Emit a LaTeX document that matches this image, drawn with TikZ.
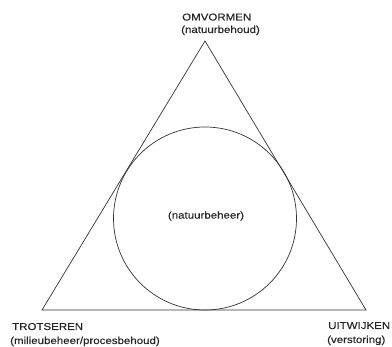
\documentclass[tikz,border=0pt]{standalone}
\usepackage{fontspec}
\setmainfont{Liberation Sans}[FakeStretch=1.15,FakeBold=0.3]
\begin{document}
\begin{tikzpicture}[x=1pt,y=-1pt,
  lbl/.style={anchor=base west,inner sep=0pt,font=\fontsize{10}{12}\selectfont,text=black!85},
  edge/.style={draw=black!80,line width=0.7pt}]
\useasboundingbox (0,0) rectangle (392,347);
\coordinate (A) at (205,41);
\coordinate (B) at (42,310);
\coordinate (C) at (366,310);
\draw[edge] (A) -- (B) -- (C) -- cycle;
\node[edge,circle,minimum size=183pt,inner sep=0pt] (circ) at (205,218.5) {};
\node[anchor=center,inner sep=0pt,font=\fontsize{10}{12}\selectfont,text=black!85] (mid) at (206,216) {(natuurbeheer)};
\node[lbl] (om) at (182,20.5) {OMVORMEN};
\node[lbl] (omb) at (181,33) {(natuurbehoud)};
\node[lbl] (tr) at (12,330) {TROTSEREN};
\node[lbl] (trb) at (10,344) {(milieubeheer/procesbehoud)};
\node[lbl] (ui) at (328,329) {UITWIJKEN};
\node[lbl] (uib) at (327,343) {(verstoring)};
\end{tikzpicture}
\end{document}
